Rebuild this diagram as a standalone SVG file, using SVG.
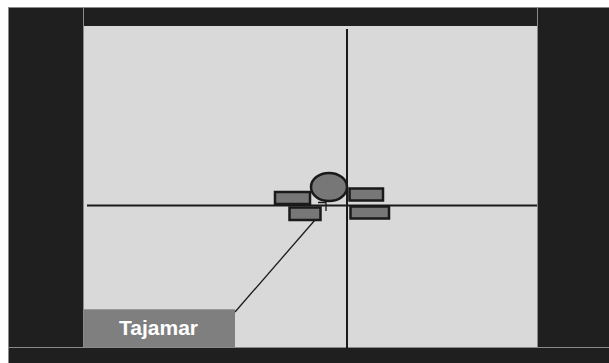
<svg xmlns="http://www.w3.org/2000/svg" width="609" height="363" viewBox="0 0 609 363">
<style>
.panel{fill:#1f1f1f}
.edge{stroke:#8a8a8a;stroke-width:1;fill:none}
.axis{stroke:#1a1a1a;stroke-width:2;fill:none}
.part{fill:#777777;stroke:#1a1a1a;stroke-width:2.5}
.lead{stroke:#1a1a1a;stroke-width:1.3;fill:none}
.label{font-family:"Liberation Sans",Arial,sans-serif;font-weight:bold;font-size:21px;fill:#ffffff}
</style>
<rect width="609" height="363" fill="#ffffff"/>
<rect class="panel" x="8" y="7" width="601" height="356"/>
<rect x="84" y="26" width="453" height="321" fill="#d9d9d9"/>
<g id="frame">
<line class="edge" x1="8.5" y1="7" x2="8.5" y2="363"/>
<line class="edge" x1="8" y1="7.5" x2="609" y2="7.5"/>
<line class="edge" x1="83.5" y1="7" x2="83.5" y2="347"/>
<line class="edge" x1="537.5" y1="7" x2="537.5" y2="347"/>
<line class="edge" x1="8" y1="347.5" x2="609" y2="347.5"/>
</g>
<g id="axes">
<line class="axis" x1="347" y1="29" x2="347" y2="349"/>
<line class="axis" x1="87" y1="205.5" x2="537" y2="205.5"/>
</g>
<g id="connectors">
<line class="lead" x1="235" y1="312" x2="315" y2="220"/>
<polyline class="lead" points="318,202.5 326,202.5 326,211"/>
</g>
<g id="pier">
<ellipse class="part" cx="329" cy="187" rx="18" ry="14"/>
</g>
<g id="block1"><rect class="part" x="275" y="192" width="35" height="12"/></g>
<g id="block2"><rect class="part" x="289.5" y="207.5" width="31" height="12.5"/></g>
<g id="block3"><rect class="part" x="349.5" y="188.5" width="33.5" height="12"/></g>
<g id="block4"><rect class="part" x="350.5" y="206.5" width="38.5" height="12"/></g>
<g id="tajamar">
<rect x="84" y="309" width="151" height="38" fill="#7f7f7f"/>
<line x1="84" y1="309.5" x2="235" y2="309.5" stroke="#9a9a9a" stroke-width="1"/>
<text class="label" x="158.5" y="334.5" text-anchor="middle">Tajamar</text>
</g>
</svg>
